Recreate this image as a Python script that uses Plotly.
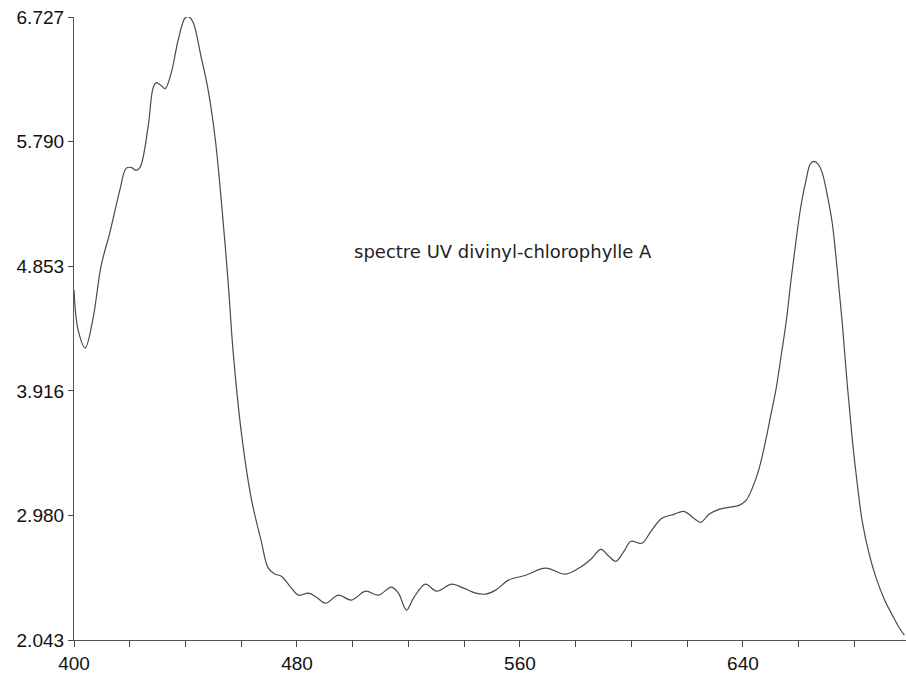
import plotly.graph_objects as go

wavelength = [400.0, 401.4, 404.0, 406.8, 409.7, 412.9, 416.5, 418.7, 420.5, 422.3, 423.7, 426.6,
              428.4, 429.5, 431.3, 432.7, 434.9, 437.4, 439.9, 441.3, 442.8, 445.6, 448.1, 450.7,
              452.8, 455.3, 457.1, 460.0, 463.6, 467.2, 469.7, 472.2, 474.4, 478.0, 480.5, 484.1,
              487.0, 490.2, 494.9, 499.5, 504.6, 509.2, 513.9, 516.4, 519.3, 521.8, 526.1, 530.1,
              535.5, 539.8, 544.1, 547.7, 551.3, 555.9, 562.1, 569.2, 576.4, 582.2, 585.8, 589.0,
              591.9, 594.4, 597.3, 599.8, 603.7, 607.0, 610.9, 615.2, 618.8, 622.4, 624.9, 627.8,
              631.4, 635.0, 638.6, 641.1, 643.3, 645.8, 648.3, 650.1, 651.9, 653.7, 655.5, 657.3,
              659.1, 660.9, 662.7, 664.1, 665.5, 667.0, 668.4, 670.2, 672.0, 673.8, 675.6, 677.4,
              679.2, 681.0, 682.8, 685.3, 687.8, 690.7, 693.6, 696.1, 697.9]
absorbance = [4.674, 4.382, 4.239, 4.457, 4.854, 5.109, 5.431, 5.589, 5.596, 5.574, 5.596, 5.904,
              6.196, 6.233, 6.211, 6.188, 6.308, 6.556, 6.721, 6.728, 6.683, 6.428, 6.181, 5.806,
              5.356, 4.734, 4.209, 3.610, 3.107, 2.785, 2.583, 2.538, 2.523, 2.433, 2.380, 2.395,
              2.365, 2.320, 2.380, 2.343, 2.410, 2.380, 2.440, 2.395, 2.268, 2.358, 2.463, 2.410,
              2.463, 2.433, 2.395, 2.388, 2.418, 2.493, 2.530, 2.583, 2.538, 2.598, 2.658, 2.725,
              2.673, 2.635, 2.710, 2.785, 2.770, 2.860, 2.958, 2.988, 3.010, 2.958, 2.928, 2.988,
              3.025, 3.040, 3.055, 3.092, 3.182, 3.332, 3.557, 3.745, 3.932, 4.180, 4.434, 4.757,
              5.056, 5.319, 5.506, 5.619, 5.641, 5.619, 5.559, 5.394, 5.184, 4.832, 4.434, 3.970,
              3.557, 3.220, 2.935, 2.688, 2.508, 2.350, 2.230, 2.133, 2.080]

x_tickvals = [400, 420, 440, 460, 480, 500, 520, 540, 560, 580, 600, 620, 640, 660, 680]
x_ticktext = ["400", "", "", "", "480", "", "", "", "560", "", "", "", "640", "", ""]
y_tickvals = [2.043, 2.980, 3.916, 4.853, 5.790, 6.727]
y_ticktext = ["2.043", "2.980", "3.916", "4.853", "5.790", "6.727"]
title_text = "spectre UV divinyl-chlorophylle A"

fig = go.Figure()
fig.add_trace(go.Scatter(
    x=wavelength, y=absorbance, mode="lines",
    line=dict(color="#4a4a4a", width=1.2, shape="spline", smoothing=1.0),
    showlegend=False, hoverinfo="skip"))

fig.add_annotation(text=title_text, xref="paper", yref="paper",
                   x=(503 - 74) / (906 - 74), y=(642 - 252) / (642 - 17),
                   xanchor="center", yanchor="middle", showarrow=False,
                   font=dict(family="DejaVu Sans", size=18, color="#222222"))

tick_font = dict(family="Liberation Sans", size=19, color="#111")
fig.update_layout(
    width=906, height=674,
    margin=dict(l=74, r=0, t=17, b=32),
    paper_bgcolor="white", plot_bgcolor="white",
    xaxis=dict(range=[400, 698.5], tickvals=x_tickvals, ticktext=x_ticktext,
               ticks="outside", ticklen=6, tickwidth=1, tickcolor="#444",
               showline=True, linecolor="#555", linewidth=1.2,
               showgrid=False, zeroline=False, tickfont=tick_font),
    yaxis=dict(range=[2.043, 6.727], tickvals=y_tickvals, ticktext=y_ticktext,
               ticks="outside", ticklen=5, tickwidth=1, tickcolor="#444",
               showline=True, linecolor="#555", linewidth=1.2,
               showgrid=False, zeroline=False, tickfont=tick_font),
)

fig.write_html("out.html")
